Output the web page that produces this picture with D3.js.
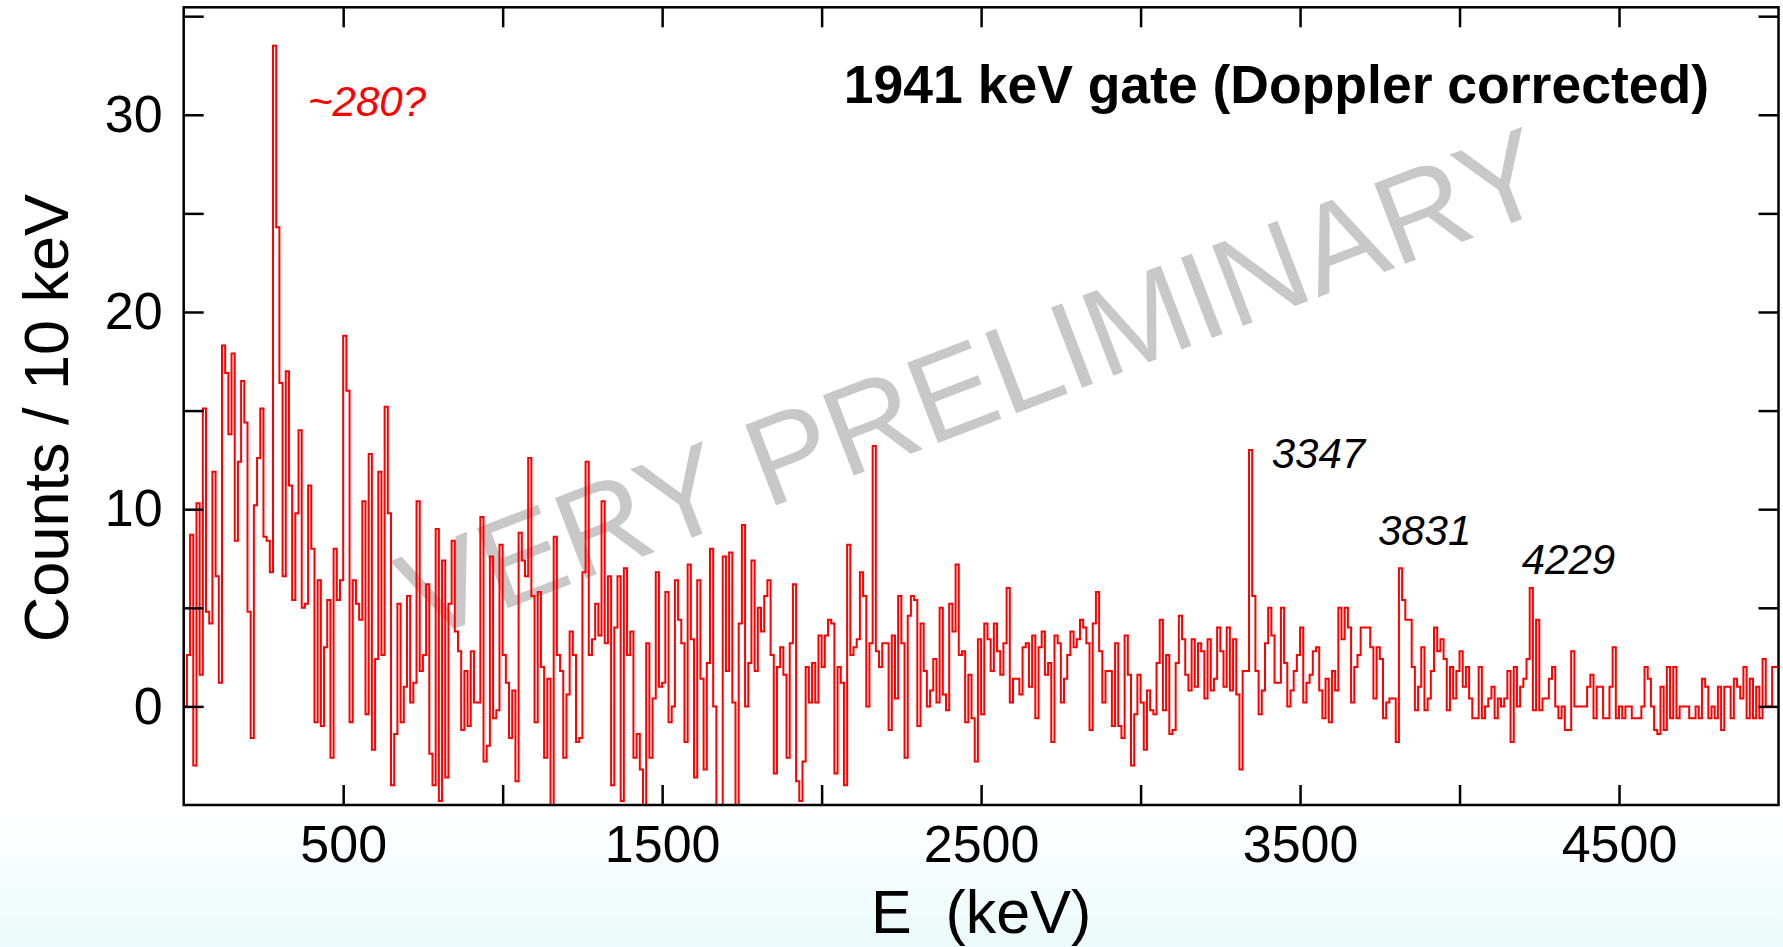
<!DOCTYPE html>
<html><head><meta charset="utf-8">
<script src="https://cdn.jsdelivr.net/npm/d3@7/dist/d3.min.js"></script>
<style>html,body{margin:0;padding:0;background:#fff;} svg{display:block;} text{font-family:"Liberation Sans",Arial,Helvetica,sans-serif;}</style>
</head><body><svg id="c" width="1783" height="947"></svg>
<script>
// ---- data ----
const binWidth = 10; // keV per bin
const counts = [
0, 2.6, 8.7, -3.0, 10.3, 1.6, 15.1, 4.8, 4.2, 11.9,
6.6, 1.2, 18.3, 16.9, 13.8, 17.9, 8.4, 12.4, 16.5, 14.4,
4.8, -1.6, 10.2, 12.6, 15.1, 8.6, 8.4, 6.8, 33.5, 24.3,
16.4, 6.6, 17.0, 11.2, 5.4, 9.8, 14.0, 5.0, 5.2, 11.2,
8.0, -0.8, 6.4, -1.0, 3.0, 5.4, -2.6, 8.0, 5.4, 6.4,
18.8, 16.0, -0.8, 6.4, 5.2, 4.4, 10.4, -0.4, 12.8, -2.2,
2.4, 11.9, 2.6, 15.2, 9.8, -4.0, -1.4, 5.2, -0.8, 1.0,
5.6, 0.2, 1.2, 10.4, 1.8, 2.6, 6.2, -2.4, -4.0, 9.0,
-4.8, 7.4, -3.6, 5.2, 8.4, 3.8, 2.8, -1.2, 1.8, -1.0,
2.8, 0.2, 0.2, 9.6, -2.8, -2.0, 7.6, -0.6, -0.2, 8.2,
2.6, 1.2, -1.6, 0.8, -3.8, 8.8, 7.4, 6.6, 12.6, 5.6,
-0.8, 5.8, 2.0, -2.6, 1.4, -5.5, 8.6, 2.6, 1.8, -2.6,
0.6, 3.8, 2.6, -1.8, -1.6, 6.8, 12.4, 2.6, 3.4, 5.2,
3.6, 10.4, 3.2, 6.6, -4.0, 4.0, 6.6, -4.8, 7.0, 2.6,
3.8, -2.6, -1.4, -3.2, -5.5, 3.2, -2.6, 0.4, 6.8, 1.0,
1.2, 5.8, -0.8, 0.0, 6.4, 4.4, 3.2, -1.8, 7.2, 3.4,
-3.6, 6.4, 1.4, -3.2, 2.2, 8.0, 0.0, -5.5, -5.5, 7.6,
1.8, 7.8, 0.2, -5.5, 4.2, 9.2, 0.0, 2.2, 7.4, 1.8,
5.0, 3.8, 5.6, 6.4, 2.6, -3.4, 2.0, 3.0, 1.6, -2.6,
3.2, 6.2, -3.8, -4.8, -2.8, 2.0, 0.2, 2.2, 0.2, 3.6,
2.0, 3.6, 4.4, 4.2, -3.4, 2.0, 1.2, -4.0, 8.2, 2.6,
3.0, 3.4, 6.8, 5.6, 0.0, 3.2, 13.2, 2.8, 2.0, 3.2,
3.2, -1.2, 3.6, 0.4, 5.6, 3.2, -2.6, 4.6, 5.6, 5.4,
-1.0, 4.2, 1.8, 0.0, 0.8, 2.4, 0.2, 5.0, 0.6, -0.2,
5.2, 3.8, 7.2, 2.6, 2.8, -0.8, 1.6, -0.6, -2.8, 3.4,
-0.4, 4.2, 3.4, 1.8, 4.2, 2.8, 1.6, 3.2, 6.0, 0.2,
1.4, 1.4, 0.6, 3.0, 3.2, 1.0, 3.6, -0.6, 3.0, 3.8,
1.6, 2.2, -1.8, 3.6, 3.2, 0.2, 1.4, 2.6, 3.8, 3.0,
3.4, 4.4, 4.0, 3.2, -1.2, 4.2, 5.8, 2.8, 0.2, 1.8,
1.8, -1.0, 3.2, -1.0, -1.6, 3.6, 1.6, -3.0, -0.4, 1.6,
0.2, -2.2, 0.8, -0.2, -0.4, 2.2, 4.4, -0.2, 2.6, -1.4,
-1.2, 2.2, 4.6, 3.4, 1.6, 0.8, 3.4, 1.0, 3.2, 2.8,
0.4, 3.4, 0.8, 1.4, 4.0, 2.8, 1.0, 4.0, 0.8, 3.4,
0.6, -3.2, 1.8, 1.8, 13.0, 5.6, 1.8, -0.4, 0.8, 3.2,
5.0, 3.6, 1.2, 1.2, 5.0, 2.2, 0.0, 0.8, 1.8, 2.6,
4.0, 0.2, 1.2, 1.6, 2.8, 3.0, 0.8, -0.6, 1.4, -0.8,
1.8, 0.8, 5.0, 3.4, 5.0, 4.0, 0.2, 2.0, 2.6, 4.0,
4.0, 4.0, 3.0, 0.4, 3.0, 2.4, -0.6, 0.2, 0.4, 0.4,
-1.8, 7.0, 5.4, 4.4, 4.4, 2.0, -0.2, 1.0, 3.0, -0.2,
0.4, 1.8, 4.0, 2.8, 3.4, 2.4, -0.2, 2.0, 0.4, 1.8,
2.8, 1.0, 2.0, 0.4, -0.6, -0.6, 2.0, -0.6, 0.0, 0.4,
1.0, -0.6, 0.4, 0.0, 0.4, 1.8, -1.8, 2.0, 0.0, 1.0,
1.4, 2.4, 6.0, -0.2, 4.4, -0.2, 0.4, 0.4, 1.4, 2.0,
0.0, -0.6, 0.0, -1.2, -1.2, 2.8, 0.0, 0.0, 0.0, 0.0,
1.0, 1.6, -0.6, 1.0, 1.0, -0.6, -0.6, 1.0, 3.0, -0.6,
0.0, -0.6, 0.0, 0.0, -0.6, -0.6, -0.6, 0.0, 2.0, 1.4,
0.0, -1.2, -1.4, 1.0, -1.2, 2.0, -0.6, 2.0, -0.6, 0.0,
0.0, 0.0, -0.6, -0.6, 0.0, -0.6, 1.4, 1.0, -0.6, 0.0,
-0.6, 1.0, -1.2, 1.0, 1.0, -0.6, 1.4, 1.0, 0.4, 2.0,
-0.6, 1.4, -0.6, 1.0, -0.6, 2.4, 0.0, 0.0, 2.0, 2.0
];
const xDomain = [0, 5000];
const yDomain = [-5, 35.45];
const xTickValues = [500, 1000, 1500, 2000, 2500, 3000, 3500, 4000, 4500];
const xTickLabels = [500, 1500, 2500, 3500, 4500];
const yTickValues = [0, 5, 10, 15, 20, 25, 30, 35];
const yTickLabels = [0, 10, 20, 30];
const title = "1941 keV gate (Doppler corrected)";
const xTitle = "E  (keV)";
const yTitle = "Counts / 10 keV";
const watermark = "VERY PRELIMINARY";
const annotations = [
  {text: "~280?", e: 390, c: 29.95, color: "#ff0000"},
  {text: "3347", e: 3411, c: 12.1, color: "#000"},
  {text: "3831", e: 3744, c: 8.2, color: "#000"},
  {text: "4229", e: 4195, c: 6.7, color: "#000"}
];

// ---- layout ----
const W = 1783, H = 947;
const L = 183.7, R = 1778.5, T = 7.3, B = 805;
const svg = d3.select("#c");
const defs = svg.append("defs");
const grad = defs.append("linearGradient").attr("id","bg").attr("x1",0).attr("y1",0).attr("x2",0).attr("y2",1);
grad.append("stop").attr("offset","0").attr("stop-color","#ffffff");
grad.append("stop").attr("offset","0.86").attr("stop-color","#ffffff");
grad.append("stop").attr("offset","1").attr("stop-color","#ebfafa");
svg.append("rect").attr("width",W).attr("height",H).attr("fill","url(#bg)");
defs.append("clipPath").attr("id","clip").append("rect").attr("x",L).attr("y",T).attr("width",R-L).attr("height",B-T);

const x = d3.scaleLinear().domain(xDomain).range([L, R]);
const y = d3.scaleLinear().domain(yDomain).range([B, T]);

svg.append("rect").attr("x",L).attr("y",T).attr("width",R-L).attr("height",B-T).attr("fill","#fff");

// watermark
svg.append("text").attr("transform","translate(988,424) rotate(-21)")
  .attr("text-anchor","middle").attr("font-size",125).attr("fill","#c8c8c8").text(watermark);

// histogram
const pts = counts.map((v,i)=>[i*binWidth, v]);
pts.push([counts.length*binWidth, counts[counts.length-1]]);
const line = d3.line().x(d=>x(d[0])).y(d=>y(d[1])).curve(d3.curveStepAfter);
svg.append("path").attr("clip-path","url(#clip)").attr("d", line(pts))
  .attr("fill","none").attr("stroke","#ff0000").attr("stroke-width",2);

// axes
const tickLen = 20;
function styleAxis(g){ g.select(".domain").remove(); g.selectAll("line").attr("stroke","#000").attr("stroke-width",2.5);
  g.selectAll("text").attr("font-size",52).attr("fill","#000").attr("font-family",'"Liberation Sans",Arial,sans-serif'); }
svg.append("g").attr("transform",`translate(0,${B})`)
  .call(d3.axisBottom(x).tickValues(xTickValues).tickSize(-tickLen).tickPadding(20)
    .tickFormat(d=>xTickLabels.includes(d)?String(d):"")).call(styleAxis);
svg.append("g").attr("transform",`translate(0,${T})`)
  .call(d3.axisTop(x).tickValues(xTickValues).tickSize(-tickLen).tickFormat(()=>"")).call(styleAxis);
svg.append("g").attr("transform",`translate(${L},0)`)
  .call(d3.axisLeft(y).tickValues(yTickValues).tickSize(-tickLen).tickPadding(21)
    .tickFormat(d=>yTickLabels.includes(d)?String(d):"")).call(styleAxis);
svg.append("g").attr("transform",`translate(${R},0)`)
  .call(d3.axisRight(y).tickValues(yTickValues).tickSize(-tickLen).tickFormat(()=>"")).call(styleAxis);

// frame
svg.append("rect").attr("x",L).attr("y",T).attr("width",R-L).attr("height",B-T)
  .attr("fill","none").attr("stroke","#000").attr("stroke-width",2.5);

// titles
svg.append("text").attr("x",(L+R)/2).attr("y",933).attr("text-anchor","middle")
  .attr("font-size",61).style("white-space","pre").text(xTitle);
svg.append("text").attr("transform","translate(68,418) rotate(-90)").attr("text-anchor","middle")
  .attr("font-size",63).text(yTitle);
svg.append("text").attr("x",1709).attr("y",103).attr("text-anchor","end")
  .attr("font-size",53.5).attr("font-weight","bold").text(title);

// annotations
svg.selectAll("text.ann").data(annotations).join("text").attr("class","ann")
  .attr("x",d=>x(d.e)).attr("y",d=>y(d.c)).attr("font-size",42).attr("font-style","italic")
  .attr("fill",d=>d.color).text(d=>d.text);
</script></body></html>
